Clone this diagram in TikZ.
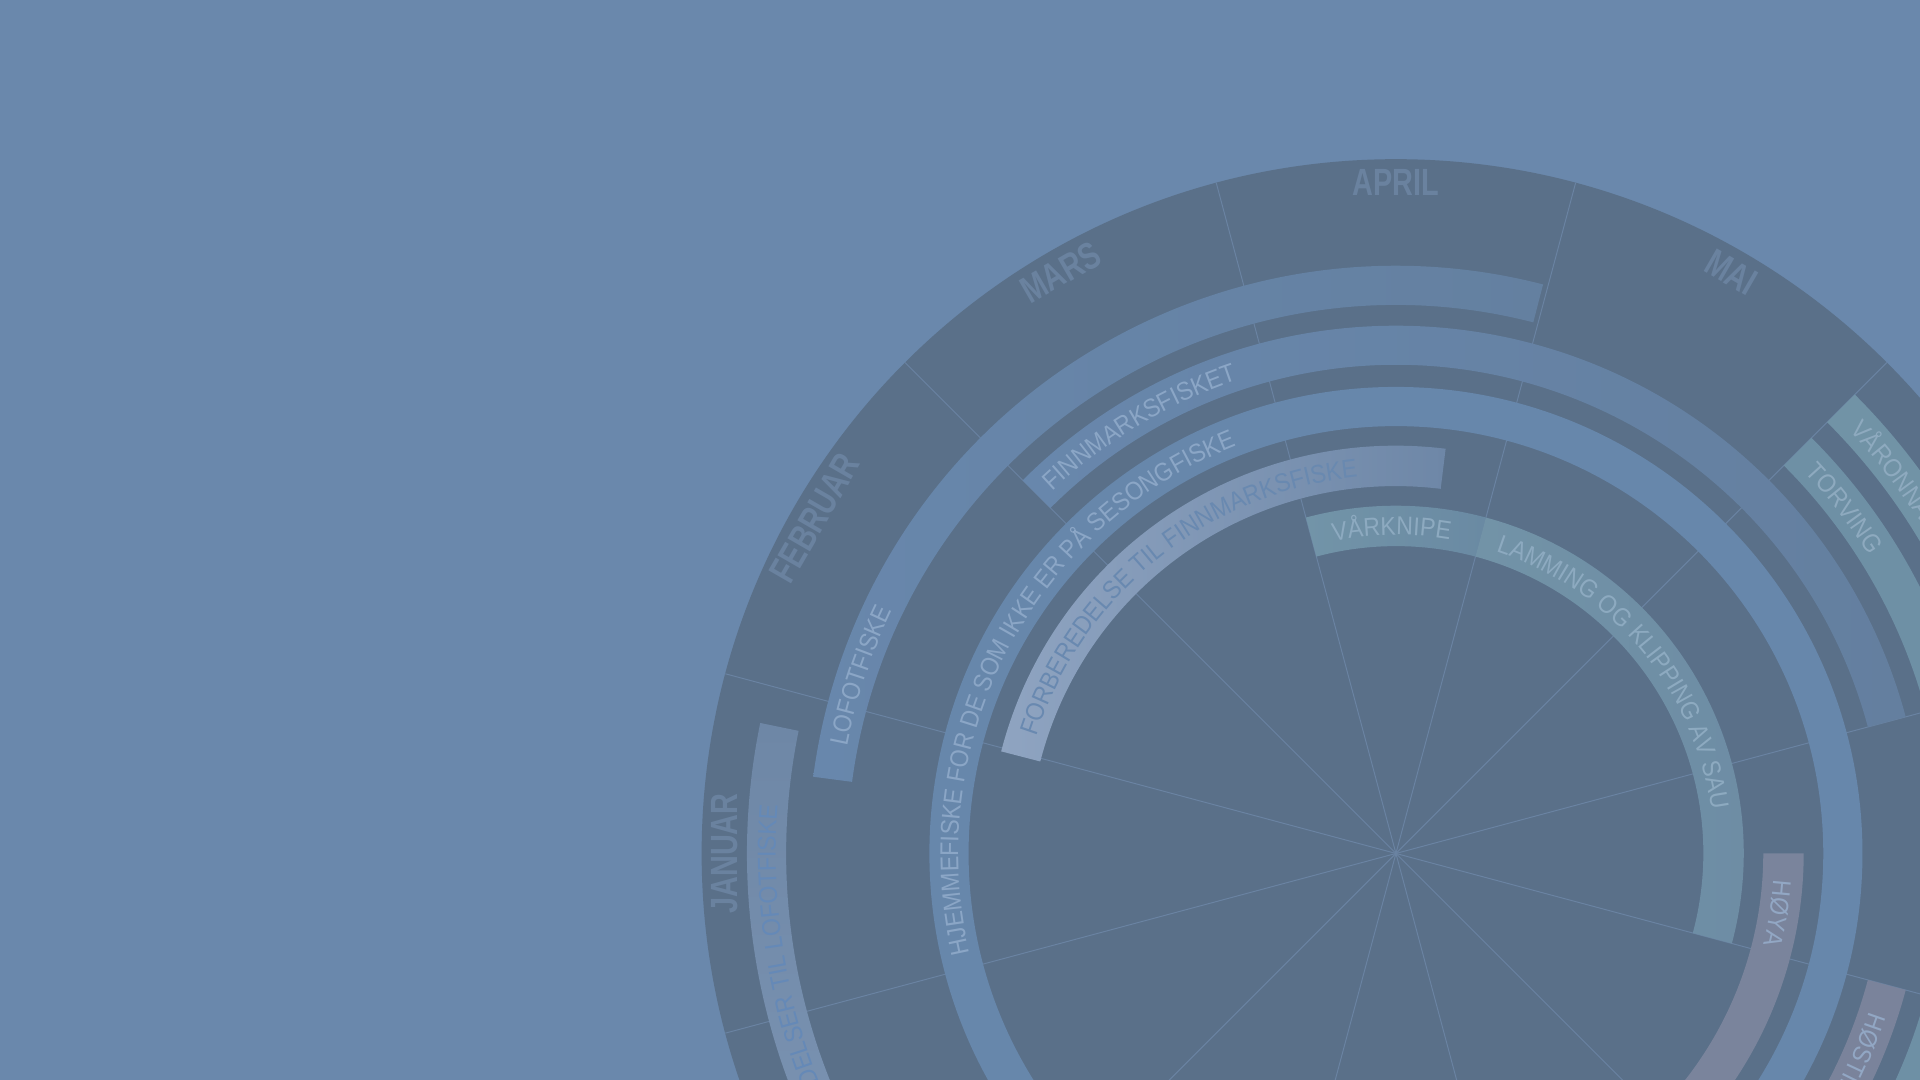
\documentclass[tikz,border=0pt]{standalone}
\usepackage{fontspec}
\setmainfont{Liberation Sans}
\newfontfamily\bandfam{Liberation Sans}[FakeStretch=0.9]
\newfontfamily\monthfam{Liberation Sans}[FakeStretch=0.76]
\usetikzlibrary{decorations.text}

\definecolor{bg}{HTML}{6A88AC}
\definecolor{disc}{HTML}{5A7089}
\definecolor{spokec}{HTML}{6A83A2}
\definecolor{monthc}{HTML}{6A829F}
\definecolor{aL}{HTML}{6887AC}
\definecolor{aR}{HTML}{6480A0}
\definecolor{bL}{HTML}{6887AC}
\definecolor{bR}{HTML}{647F9F}
\definecolor{cC}{HTML}{6787AB}
\definecolor{dL}{HTML}{8FA4C1}
\definecolor{dR}{HTML}{6E87A7}
\definecolor{vkL}{HTML}{7294A8}
\definecolor{vkR}{HTML}{6A8AA3}
\definecolor{lamL}{HTML}{7293A7}
\definecolor{lamR}{HTML}{6D8CA4}
\definecolor{hoyC}{HTML}{7A849C}
\definecolor{hostC}{HTML}{7A839B}
\definecolor{torvC}{HTML}{6E90A5}
\definecolor{varC}{HTML}{7193A6}
\definecolor{flT}{HTML}{6E87A6}
\definecolor{flB}{HTML}{8199B8}
\definecolor{txtlight}{HTML}{8BA6C6}
\definecolor{txtD}{HTML}{6989B0}
\definecolor{txtE}{HTML}{8DAAC0}
\definecolor{txtHoy}{HTML}{92A7C4}
\definecolor{txtTorv}{HTML}{8EAABF}
\definecolor{txtFL}{HTML}{6589B7}

\newcommand\bandfont{\bandfam\fontsize{21}{21}\selectfont}
% annular sector: style, inner r, outer r, start angle, end angle
\newcommand\annsec[5]{\path[#1] ([shift={(#4:#3)}]C) arc[start angle=#4, end angle=#5, radius=#3] -- ([shift={(#5:#2)}]C) arc[start angle=#5, end angle=#4, radius=#2] -- cycle;}
% text along an arc: colour, radius, start angle, end angle, text
\newcommand\arctext[5]{\path[decorate, decoration={text along path, text color=#1, text={|\bandfont|#5}}] ([shift={(#3:#2)}]C) arc[start angle=#3, end angle=#4, radius=#2];}

\tikzset{
  spoke/.style={draw=spokec, line width=0.8pt},
  month/.style={font=\monthfam\bfseries\fontsize{31}{31}\selectfont, text=monthc, inner sep=0pt},
}

\begin{document}
\begin{tikzpicture}[x=1pt,y=1pt]
\fill[bg] (0,0) rectangle (1568,882);
\useasboundingbox (0,0) rectangle (1568,882);
\clip (0,0) rectangle (1568,882);
\coordinate (C) at (1140,185);
\fill[disc] (C) circle[radius=567];
\foreach \a in {15,45,...,345} \draw[spoke] (C) -- ([shift={(\a:567)}]C);

% ring 6
\annsec{top color=flT, bottom color=flB}{498}{530}{240}{168.4}
\annsec{fill=varC}{498}{530}{45}{-40}
% ring A
\annsec{left color=aL, right color=aR}{448}{480}{172.5}{75.5}
\annsec{fill=torvC}{448}{480}{45}{-40}
% ring B
\annsec{left color=bL, right color=bR}{399}{431}{135}{15}
\annsec{fill=hostC}{399}{431}{-15}{-60}
% ring C
\fill[cC, even odd rule] (C) circle[radius=381] (C) circle[radius=349];
% ring D
\annsec{left color=dL, right color=dR}{300}{333}{165.5}{83}
\annsec{fill=hoyC}{300}{333}{0}{-60}
% ring E
\annsec{left color=vkL, right color=vkR}{251}{284}{105}{75}
\annsec{left color=lamL, right color=lamR}{251}{284}{75}{-15}

% texts
\arctext{txtFL}{506.5}{212}{170}{FORBEREDELSER TIL LOFOTFISKE}
\arctext{txtTorv}{506.5}{43}{10}{VÅRONNA}
\arctext{txtlight}{456.5}{169}{100}{LOFOTFISKE}
\arctext{txtTorv}{456.5}{43}{15}{TORVING}
\arctext{txtlight}{407.5}{133.5}{60}{FINNMARKSFISKET}
\arctext{txtHoy}{407.5}{-18.5}{-45}{HØSTING}
\arctext{txtlight}{357.5}{193.2}{90}{HJEMMEFISKE FOR DE SOM IKKE ER PÅ SESONGFISKE}
\arctext{txtD}{309}{162}{85}{FORBEREDELSE TIL FINNMARKSFISKE}
\arctext{txtHoy}{309}{-4}{-30}{HØYA}
\arctext{txtE}{260}{101.3}{76}{VÅRKNIPE}
\arctext{txtE}{260}{71.7}{0}{LAMMING OG KLIPPING AV SAU}

% months
\node[month, rotate=90] (jan) at ([shift={(180:548)}]C) {JANUAR};
\node[month, rotate=60] (feb) at ([shift={(150:548)}]C) {FEBRUAR};
\node[month, rotate=30] (mar) at ([shift={(120:548)}]C) {MARS};
\node[month] (apr) at ([shift={(90:548)}]C) {APRIL};
\node[month, rotate=-30] (mai) at ([shift={(60:548)}]C) {MAI};
\end{tikzpicture}
\end{document}
